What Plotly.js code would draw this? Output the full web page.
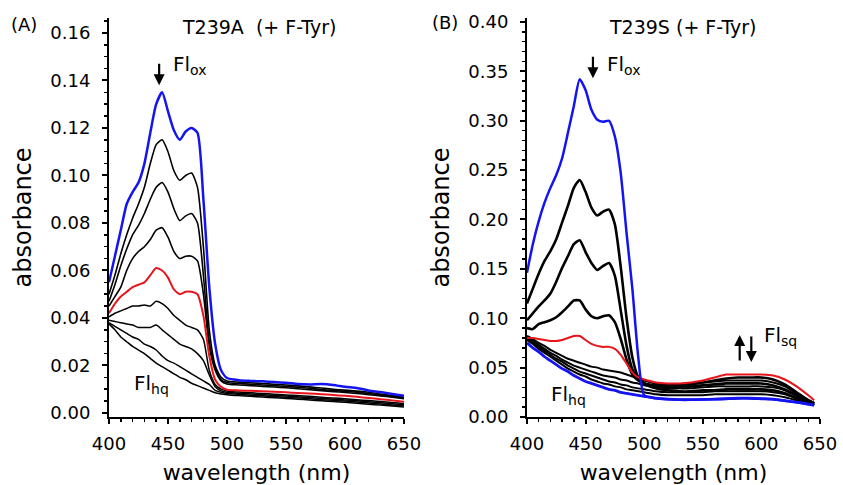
<!DOCTYPE html>
<html>
<head>
<meta charset="utf-8">
<script src="https://cdn.plot.ly/plotly-3.0.1.min.js"></script>
<style>html,body{margin:0;padding:0;background:#fff;}#chart{width:843px;height:485px;}</style>
</head>
<body>
<div id="chart"></div>
<script>
// ---------- Panel A: T239A (+ F-Tyr) ----------
const wlA = [400,405,410,415,420,425,430,435,440,445,450,455,460,465,470,475,480,485,490,495,500,
             510,520,530,540,550,560,570,580,590,600,610,620,630,640,650];
const A_ox  = [0.055,0.066,0.077,0.088,0.093,0.097,0.105,0.118,0.130,0.135,0.127,0.119,0.115,0.1185,0.120,0.118,0.090,0.053,0.029,0.018,0.0147,
               0.0138,0.0135,0.0133,0.0130,0.0127,0.0122,0.0120,0.0122,0.0118,0.0110,0.0105,0.0095,0.0088,0.0080,0.0072];
const A_1   = [0.050,0.058,0.067,0.075,0.082,0.088,0.095,0.105,0.113,0.115,0.110,0.102,0.098,0.100,0.101,0.095,0.070,0.035,0.020,0.015,0.0135,
               0.0130,0.0127,0.0124,0.0121,0.0118,0.0114,0.0110,0.0105,0.0100,0.0096,0.0092,0.0087,0.0080,0.0073,0.0066];
const A_2   = [0.047,0.054,0.062,0.069,0.075,0.079,0.084,0.090,0.095,0.097,0.093,0.086,0.081,0.083,0.084,0.080,0.058,0.030,0.019,0.014,0.0128,
               0.0124,0.0121,0.0118,0.0115,0.0112,0.0108,0.0104,0.0099,0.0095,0.0091,0.0087,0.0082,0.0076,0.0070,0.0063];
const A_3   = [0.045,0.049,0.053,0.060,0.065,0.068,0.070,0.073,0.077,0.078,0.074,0.068,0.065,0.066,0.066,0.064,0.050,0.028,0.018,0.0135,0.0122,
               0.0118,0.0115,0.0112,0.0109,0.0106,0.0102,0.0098,0.0094,0.0090,0.0086,0.0082,0.0077,0.0072,0.0066,0.0060];
const A_sq  = [0.042,0.046,0.049,0.051,0.053,0.054,0.055,0.058,0.061,0.060,0.057,0.052,0.050,0.051,0.051,0.050,0.041,0.024,0.014,0.011,0.0098,
               0.0095,0.0093,0.0091,0.0089,0.0087,0.0084,0.0082,0.0079,0.0076,0.0072,0.0068,0.0063,0.0058,0.0053,0.0047];
const A_4   = [0.0405,0.042,0.043,0.044,0.045,0.045,0.0455,0.045,0.047,0.046,0.044,0.041,0.039,0.037,0.036,0.035,0.031,0.018,0.012,0.0100,0.0092,
               0.0088,0.0085,0.0082,0.0079,0.0076,0.0073,0.0070,0.0066,0.0063,0.0060,0.0056,0.0052,0.0048,0.0044,0.0040];
const A_5   = [0.039,0.0385,0.038,0.0375,0.037,0.036,0.036,0.036,0.037,0.035,0.033,0.031,0.029,0.028,0.027,0.025,0.022,0.016,0.011,0.0093,0.0087,
               0.0083,0.0080,0.0077,0.0074,0.0071,0.0068,0.0065,0.0061,0.0058,0.0055,0.0051,0.0047,0.0043,0.0039,0.0035];
const A_6   = [0.038,0.0365,0.035,0.0335,0.032,0.031,0.029,0.028,0.0265,0.024,0.022,0.021,0.0195,0.018,0.0165,0.015,0.0135,0.012,0.0095,0.0087,0.0082,
               0.0078,0.0075,0.0072,0.0069,0.0066,0.0063,0.0060,0.0056,0.0053,0.0050,0.0046,0.0042,0.0038,0.0034,0.0030];
const A_7   = [0.0375,0.035,0.032,0.030,0.028,0.0265,0.025,0.023,0.021,0.0195,0.018,0.0165,0.015,0.014,0.0125,0.0115,0.0105,0.0095,0.0085,0.008,0.0077,
               0.0073,0.0070,0.0067,0.0064,0.0061,0.0058,0.0055,0.0051,0.0048,0.0045,0.0041,0.0037,0.0033,0.0029,0.0025];

// ---------- Panel B: T239S (+ F-Tyr) ----------
const wlB = [400,405,410,415,420,425,430,435,440,445,450,455,460,465,470,475,480,485,490,495,500,
             510,520,530,540,550,560,570,580,590,600,610,620,630,640,645];
const B_ox  = [0.146,0.175,0.198,0.217,0.232,0.245,0.262,0.288,0.315,0.342,0.331,0.311,0.301,0.299,0.300,0.284,0.247,0.186,0.129,0.060,0.022,
               0.019,0.018,0.0175,0.0175,0.0178,0.018,0.0185,0.019,0.019,0.0185,0.018,0.0165,0.015,0.013,0.012];
const B_1   = [0.115,0.130,0.145,0.158,0.168,0.180,0.197,0.214,0.232,0.240,0.228,0.212,0.204,0.208,0.210,0.195,0.152,0.100,0.060,0.040,0.034,
               0.029,0.027,0.026,0.026,0.027,0.027,0.028,0.028,0.028,0.028,0.027,0.024,0.019,0.015,0.013];
const B_2   = [0.098,0.105,0.112,0.118,0.125,0.137,0.151,0.163,0.175,0.179,0.167,0.156,0.149,0.153,0.156,0.143,0.108,0.072,0.048,0.038,0.034,
               0.031,0.030,0.030,0.031,0.032,0.033,0.034,0.034,0.034,0.034,0.032,0.028,0.022,0.016,0.014];
const B_3   = [0.090,0.089,0.094,0.096,0.098,0.101,0.106,0.112,0.118,0.118,0.109,0.102,0.100,0.102,0.103,0.096,0.079,0.058,0.043,0.037,0.034,
               0.032,0.032,0.032,0.033,0.035,0.037,0.039,0.040,0.040,0.040,0.038,0.033,0.025,0.017,0.014];
const B_sq  = [0.080,0.080,0.079,0.078,0.077,0.077,0.078,0.080,0.082,0.082,0.078,0.074,0.072,0.071,0.071,0.069,0.063,0.054,0.045,0.040,0.038,
               0.035,0.034,0.034,0.035,0.037,0.040,0.043,0.043,0.043,0.043,0.042,0.038,0.031,0.022,0.017];
const B_4   = [0.082,0.079,0.075,0.072,0.068,0.065,0.062,0.059,0.057,0.055,0.053,0.051,0.050,0.048,0.047,0.046,0.045,0.043,0.041,0.039,0.037,
               0.034,0.033,0.033,0.034,0.035,0.036,0.037,0.037,0.037,0.037,0.035,0.031,0.024,0.017,0.014];
const B_5   = [0.080,0.077,0.073,0.069,0.065,0.062,0.058,0.055,0.052,0.050,0.048,0.046,0.044,0.042,0.041,0.040,0.038,0.037,0.035,0.034,0.032,
               0.030,0.029,0.029,0.029,0.030,0.031,0.031,0.031,0.031,0.031,0.030,0.027,0.021,0.015,0.013];
const B_6   = [0.079,0.075,0.071,0.067,0.063,0.059,0.056,0.052,0.049,0.046,0.044,0.042,0.040,0.038,0.036,0.035,0.033,0.032,0.030,0.029,0.028,
               0.026,0.025,0.025,0.025,0.025,0.026,0.026,0.026,0.026,0.026,0.025,0.023,0.019,0.015,0.012];
const B_7   = [0.078,0.074,0.069,0.065,0.061,0.057,0.053,0.049,0.046,0.043,0.041,0.038,0.036,0.034,0.033,0.031,0.030,0.028,0.027,0.026,0.025,
               0.023,0.022,0.022,0.022,0.022,0.023,0.023,0.023,0.023,0.023,0.022,0.020,0.017,0.014,0.012];
const B_hq  = [0.075,0.070,0.066,0.061,0.057,0.053,0.049,0.046,0.042,0.039,0.036,0.034,0.032,0.030,0.028,0.027,0.025,0.024,0.023,0.022,0.021,
               0.019,0.018,0.0175,0.0175,0.0178,0.018,0.0185,0.019,0.019,0.0185,0.018,0.0165,0.015,0.013,0.012];

const titleA = 'T239A\u00A0\u00A0(+ F-Tyr)';
const titleB = 'T239S (+ F-Tyr)';
const xTitle = 'wavelength (nm)';
const yTitle = 'absorbance';

const BLACK = '#000000', RED = '#e8141c', BLUE = '#1414f0';
function tr(x, y, color, width, xa, ya) {
  return {x: x, y: y, type: 'scatter', mode: 'lines',
          line: {color: color, width: width, shape: 'spline', smoothing: 0.6},
          xaxis: xa, yaxis: ya, hoverinfo: 'skip'};
}
const traces = [
  tr(wlA, A_7, BLACK, 1.5, 'x', 'y'), tr(wlA, A_6, BLACK, 1.5, 'x', 'y'),
  tr(wlA, A_5, BLACK, 1.5, 'x', 'y'), tr(wlA, A_4, BLACK, 1.5, 'x', 'y'),
  tr(wlA, A_3, BLACK, 1.6, 'x', 'y'), tr(wlA, A_2, BLACK, 1.6, 'x', 'y'),
  tr(wlA, A_1, BLACK, 1.6, 'x', 'y'), tr(wlA, A_sq, RED, 2, 'x', 'y'),
  tr(wlA, A_ox, BLUE, 2.5, 'x', 'y'),
  tr(wlB, B_7, BLACK, 2, 'x2', 'y2'), tr(wlB, B_6, BLACK, 2, 'x2', 'y2'),
  tr(wlB, B_5, BLACK, 2, 'x2', 'y2'), tr(wlB, B_4, BLACK, 2, 'x2', 'y2'),
  tr(wlB, B_3, BLACK, 2.6, 'x2', 'y2'), tr(wlB, B_2, BLACK, 2.6, 'x2', 'y2'),
  tr(wlB, B_1, BLACK, 2.6, 'x2', 'y2'), tr(wlB, B_sq, RED, 2, 'x2', 'y2'),
  tr(wlB, B_ox, BLUE, 2.5, 'x2', 'y2'), tr(wlB, B_hq, BLUE, 2.8, 'x2', 'y2')
];

const FONT = 'DejaVu Sans, Arial, sans-serif';
function xax(domain, anchor) {
  return {domain: domain, anchor: anchor, range: [400, 650], tick0: 400, dtick: 50,
    ticks: 'outside', ticklen: 5, tickwidth: 2, tickcolor: '#000',
    minor: {dtick: 10, ticks: 'outside', ticklen: 3, tickwidth: 1.5, tickcolor: '#000'},
    showline: true, linewidth: 2, linecolor: '#000', showgrid: false, zeroline: false,
    ticklabelstandoff: 4, tickfont: {size: 18},
    title: {text: xTitle, font: {size: 22}, standoff: 13}};
}
function yax(domain, anchor, range, dtick, minor) {
  return {domain: domain, anchor: anchor, range: range, tick0: 0, dtick: dtick, tickformat: '.2f',
    ticks: 'outside', ticklen: 5, tickwidth: 2, tickcolor: '#000',
    minor: {dtick: minor, ticks: 'outside', ticklen: 3, tickwidth: 1.5, tickcolor: '#000'},
    showline: true, linewidth: 2, linecolor: '#000', showgrid: false, zeroline: false,
    ticklabelstandoff: 8, tickfont: {size: 18},
    title: {text: yTitle, font: {size: 24}, standoff: 12}};
}

const arrowBase = {text: '', showarrow: true, arrowhead: 2, arrowsize: 1, arrowwidth: 2.2,
                   arrowcolor: '#000', ax: 0, standoff: 0, startstandoff: 0};
const annotations = [
  {xref: 'paper', yref: 'paper', x: 0.3072, y: 0.9443, xanchor: 'center', yanchor: 'middle',
   text: titleA, showarrow: false, font: {size: 19}},
  {xref: 'paper', yref: 'paper', x: 0.8102, y: 0.9443, xanchor: 'center', yanchor: 'middle',
   text: titleB, showarrow: false, font: {size: 19}},
  {xref: 'paper', yref: 'paper', x: 0.0285, y: 0.9485, xanchor: 'center', yanchor: 'middle',
   text: '(A)', showarrow: false, font: {size: 18}},
  {xref: 'paper', yref: 'paper', x: 0.528, y: 0.9526, xanchor: 'center', yanchor: 'middle',
   text: '(B)', showarrow: false, font: {size: 18}},
  // panel A labels
  Object.assign({}, arrowBase, {xref: 'x', yref: 'y', x: 442.5, y: 0.138, ay: -23}),
  {xref: 'x', yref: 'y', x: 452.7, y: 0.1465, xanchor: 'left', yanchor: 'middle', showarrow: false,
   text: 'Fl<sub>ox</sub>', font: {size: 20}},
  {xref: 'x', yref: 'y', x: 419.6, y: 0.0122, xanchor: 'left', yanchor: 'middle', showarrow: false,
   text: 'Fl<sub>hq</sub>', font: {size: 20}},
  // panel B labels
  Object.assign({}, arrowBase, {xref: 'x2', yref: 'y2', x: 456.3, y: 0.343, ay: -23}),
  {xref: 'x2', yref: 'y2', x: 466.3, y: 0.3565, xanchor: 'left', yanchor: 'middle', showarrow: false,
   text: 'Fl<sub>ox</sub>', font: {size: 20}},
  Object.assign({}, arrowBase, {xref: 'x2', yref: 'y2', x: 581.5, y: 0.083, ay: 27}),
  Object.assign({}, arrowBase, {xref: 'x2', yref: 'y2', x: 591.4, y: 0.0557, ay: -27}),
  {xref: 'x2', yref: 'y2', x: 600.9, y: 0.082, xanchor: 'left', yanchor: 'middle', showarrow: false,
   text: 'Fl<sub>sq</sub>', font: {size: 20}},
  {xref: 'x2', yref: 'y2', x: 419, y: 0.0223, xanchor: 'left', yanchor: 'middle', showarrow: false,
   text: 'Fl<sub>hq</sub>', font: {size: 20}}
];

const layout = {
  width: 843, height: 485,
  margin: {l: 0, r: 0, t: 0, b: 0},
  paper_bgcolor: '#fff', plot_bgcolor: '#fff',
  showlegend: false,
  font: {family: FONT, size: 18, color: '#000'},
  xaxis: xax([0.1293, 0.4792], 'y'),
  yaxis: yax([0.1402, 0.9629], 'x', [-0.0017, 0.1663], 0.02, 0.005),
  xaxis2: xax([0.6251, 0.9727], 'y2'),
  yaxis2: yax([0.1402, 0.9629], 'x2', [0, 0.404], 0.05, 0.01),
  annotations: annotations
};

Plotly.newPlot('chart', traces, layout, {staticPlot: true, displayModeBar: false});
</script>
</body>
</html>
